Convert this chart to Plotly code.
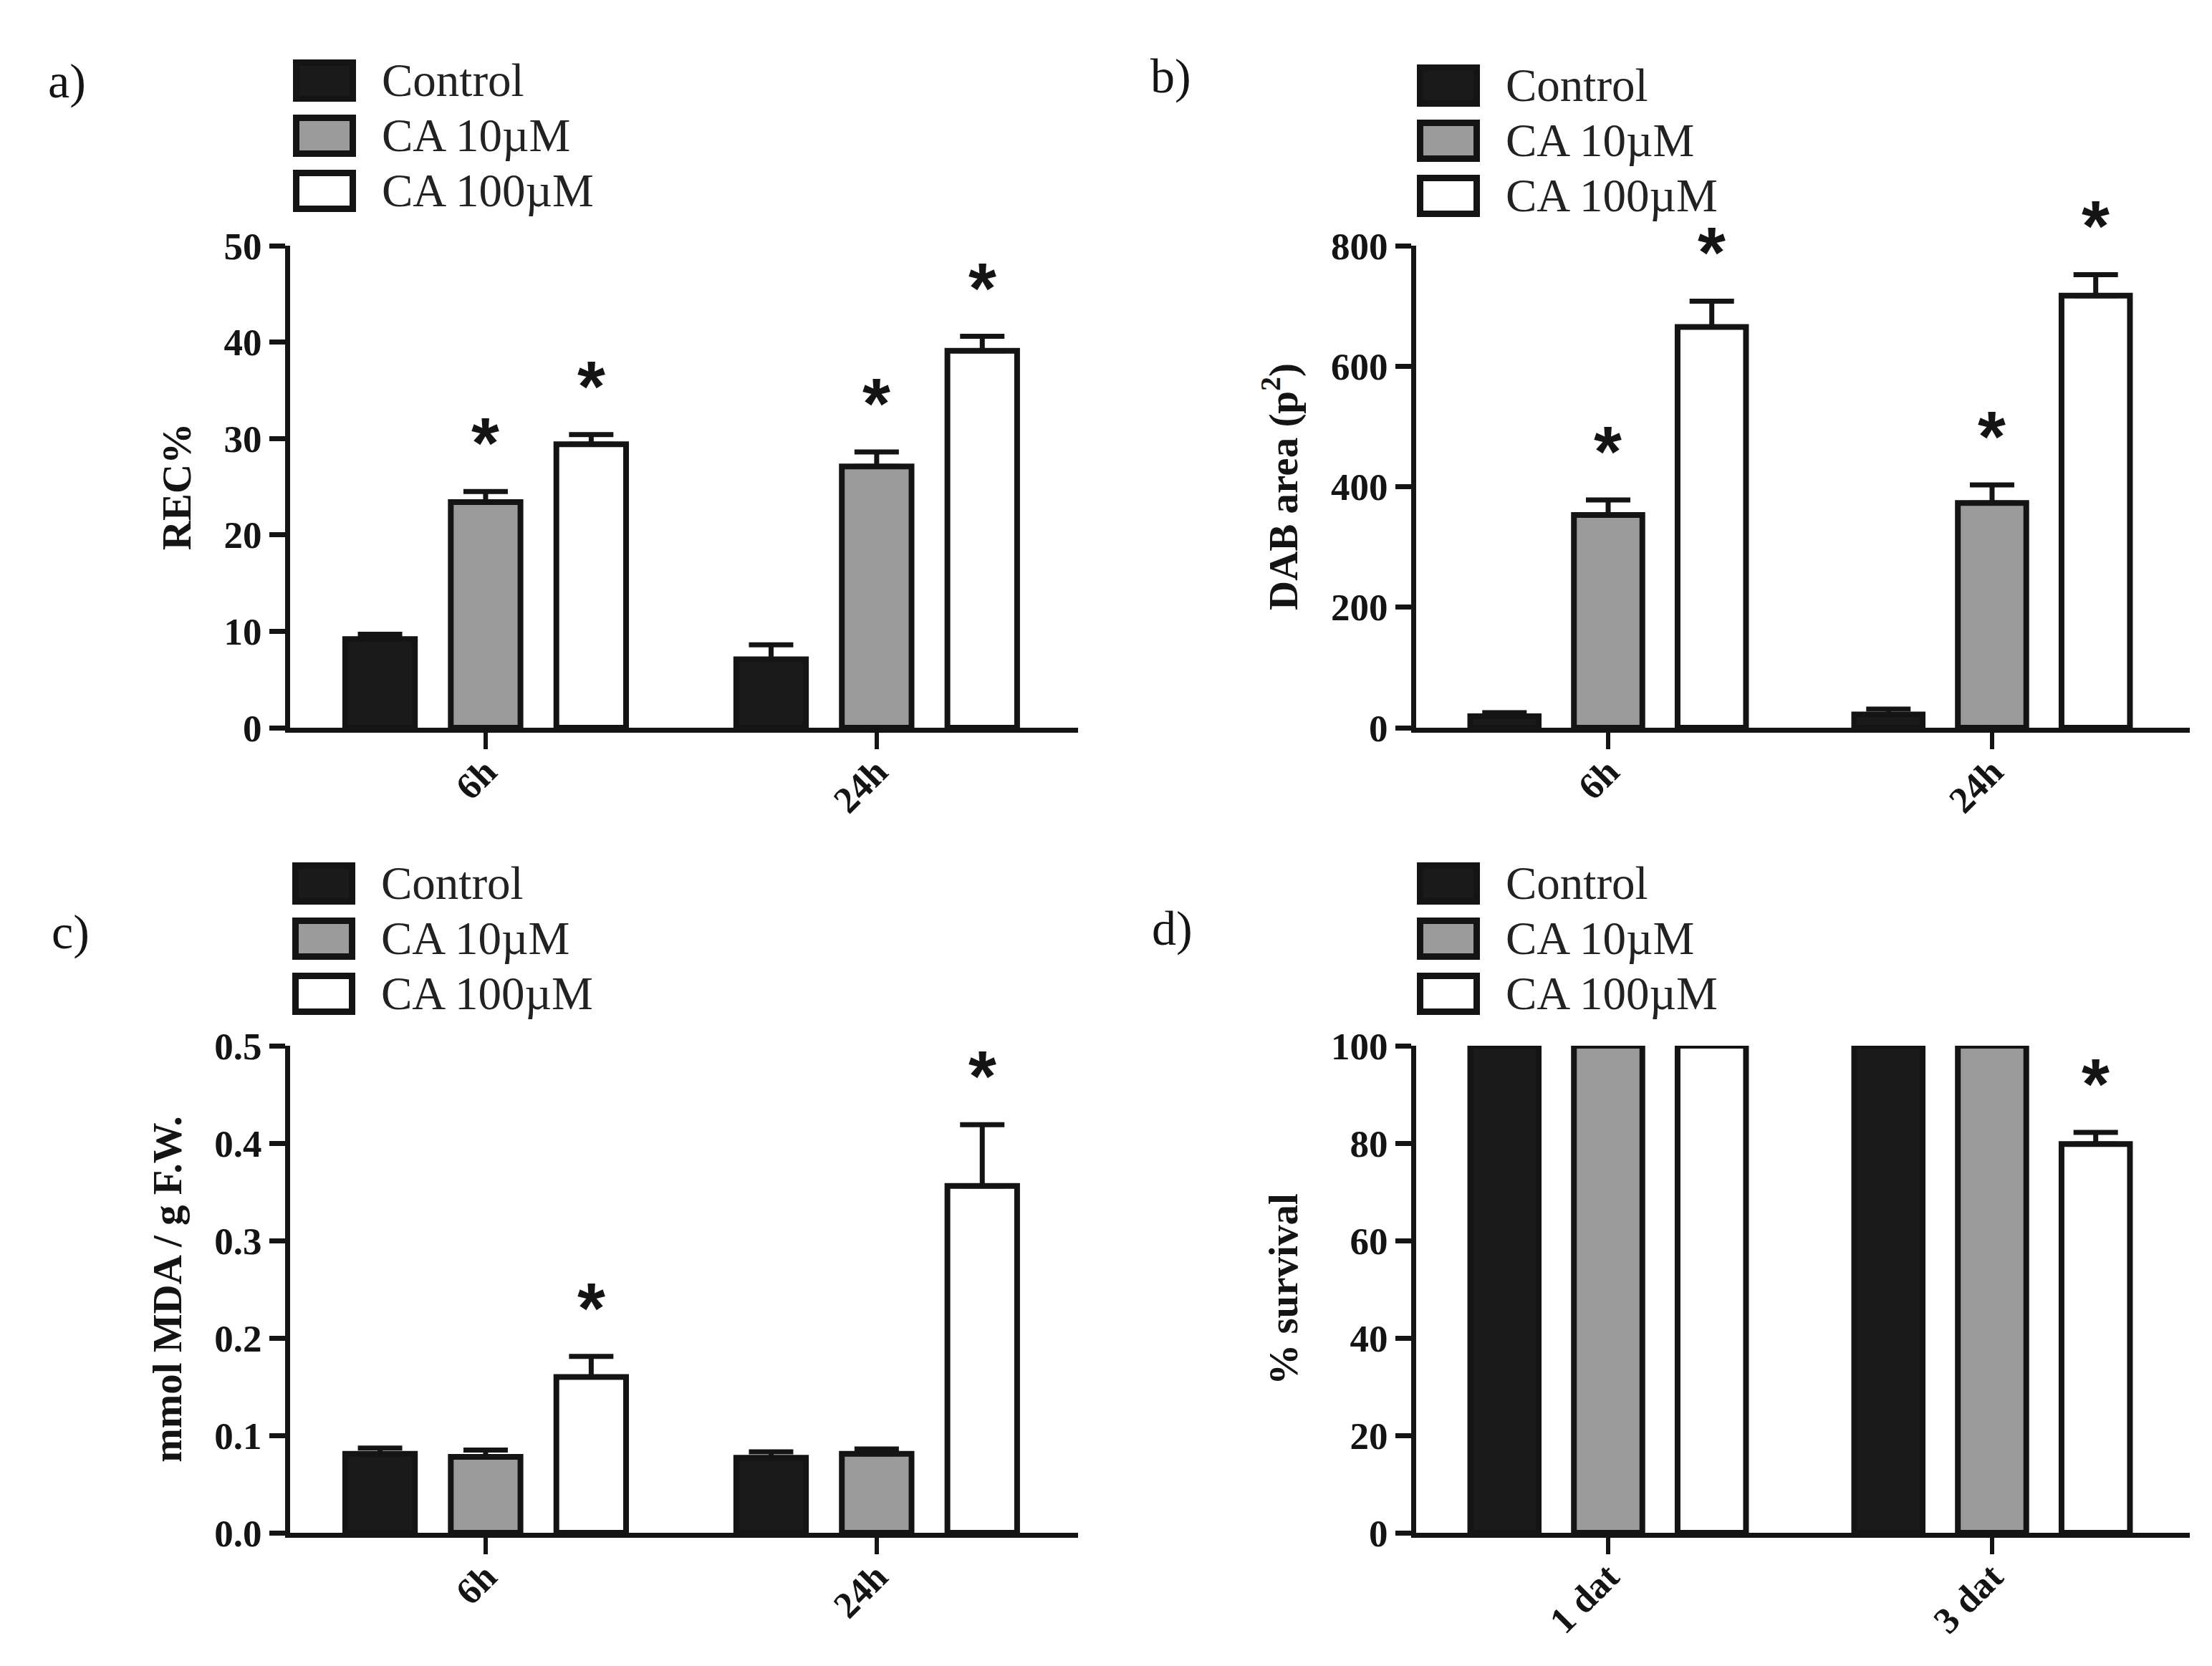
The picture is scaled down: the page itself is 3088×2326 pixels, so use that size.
import plotly.graph_objects as go

# category labels
hours = ["6h", "24h"]
days = ["1 dat", "3 dat"]
groups = ["Control", "CA 10µM", "CA 100µM"]

# a) relative electrolyte conductivity, one row per group
rec_means = [[9.2, 7.1], [23.4, 27.1], [29.4, 39.1]]
rec_errs = [[0.5, 1.5], [1.1, 1.5], [1.0, 1.5]]
rec_sig = [[False, False], [True, True], [True, True]]

# b) DAB staining area
dab_means = [[19, 22], [353, 373], [665, 717]]
dab_errs = [[6, 9], [25, 30], [43, 35]]
dab_sig = [[False, False], [True, True], [True, True]]

# c) malondialdehyde content
mda_means = [[0.081, 0.077], [0.078, 0.081], [0.160, 0.356]]
mda_errs = [[0.006, 0.006], [0.007, 0.005], [0.021, 0.063]]
mda_sig = [[False, False], [False, False], [True, True]]

# d) survival
surv_means = [[100, 100], [100, 100], [100, 79.8]]
surv_errs = [[0, 0], [0, 0], [0, 2.4]]
surv_sig = [[False, False], [False, False], [False, True]]

W, H = 3088, 2326
SERIF = "Liberation Serif, Times New Roman, serif"
STAR_FONT = "Liberation Sans, Arial, sans-serif"
INK = "#141414"
FILLS = ["#1a1a1a", "#9b9b9b", "#ffffff"]
BARGAP = 0.19


def px(x):
    return x / W


def py(y):
    return 1 - y / H


panels = [
    dict(letter="a)", cats=hours, means=rec_means, errs=rec_errs, sig=rec_sig,
         ymax=50, dtick=10, fmt="d", title="REC%",
         xdom=(397, 1497), ydom=(1008, 335), legend=(401, 75), label=(57, 105)),
    dict(letter="b)", cats=hours, means=dab_means, errs=dab_errs, sig=dab_sig,
         ymax=800, dtick=200, fmt="d", title="DAB area (p<sup>2</sup>)",
         xdom=(1969, 3049), ydom=(1008, 335), legend=(1970, 82), label=(1596, 98)),
    dict(letter="c)", cats=hours, means=mda_means, errs=mda_errs, sig=mda_sig,
         ymax=0.5, dtick=0.1, fmt=".1f", title="mmol MDA / g F.W.",
         xdom=(397, 1497), ydom=(2132, 1452), legend=(400, 1196), label=(62, 1293)),
    dict(letter="d)", cats=days, means=surv_means, errs=surv_errs, sig=surv_sig,
         ymax=100, dtick=20, fmt="d", title="% survival",
         xdom=(1969, 3049), ydom=(2132, 1452), legend=(1970, 1196), label=(1598, 1288)),
]

fig = go.Figure()
annotations = []
shapes = []
layout_axes = {}
slot = (1 - BARGAP) / len(groups)

for i, p in enumerate(panels):
    sfx = "" if i == 0 else str(i + 1)
    for k, name in enumerate(groups):
        fig.add_trace(go.Bar(
            x=p["cats"], y=p["means"][k], name=name,
            marker=dict(color=FILLS[k], line=dict(color=INK, width=8)),
            error_y=dict(type="data", symmetric=False, array=p["errs"][k],
                         arrayminus=[0] * len(p["cats"]), color=INK,
                         thickness=7, width=31),
            xaxis="x" + sfx, yaxis="y" + sfx, offsetgroup=str(k),
            cliponaxis=False, showlegend=False,
        ))
        # significance stars above error bars
        for j, flag in enumerate(p["sig"][k]):
            if flag:
                annotations.append(dict(
                    x=j + (k - 1) * slot, y=p["means"][k][j] + p["errs"][k][j],
                    xref="x" + sfx, yref="y" + sfx, text="*", showarrow=False,
                    yanchor="middle", yshift=68,
                    font=dict(family=STAR_FONT, size=100, color=INK, weight="bold")))

    layout_axes["xaxis" + sfx] = dict(
        domain=[px(p["xdom"][0]), px(p["xdom"][1])], anchor="y" + sfx,
        type="category", range=[-0.5, 1.515], showline=True, linecolor=INK,
        linewidth=7, ticks="outside", ticklen=23, tickwidth=6, tickcolor=INK,
        tickangle=-45, ticklabelstandoff=-20, layer="above traces",
        showgrid=False, zeroline=False, automargin=False,
        tickfont=dict(family=SERIF, size=52, color=INK, weight="bold"))
    layout_axes["yaxis" + sfx] = dict(
        domain=[py(p["ydom"][0]), py(p["ydom"][1])], anchor="x" + sfx,
        range=[0, p["ymax"]], tick0=0, dtick=p["dtick"], tickformat=p["fmt"],
        showline=True, linecolor=INK, linewidth=7, ticks="outside", ticklen=22,
        tickwidth=7, tickcolor=INK, showgrid=False, zeroline=False,
        automargin=False, layer="above traces",
        tickfont=dict(family=SERIF, size=53, color=INK, weight="bold"),
        title=dict(text=p["title"], standoff=30,
                   font=dict(family=SERIF, size=57, color=INK, weight="bold")))

    # panel letter
    annotations.append(dict(
        x=px(p["label"][0]), y=py(p["label"][1]), xref="paper", yref="paper",
        text=p["letter"], showarrow=False, xanchor="left", yanchor="middle",
        font=dict(family=SERIF, size=68, color=INK)))

    # legend drawn as boxes + labels
    lx, ly = p["legend"]
    for k, name in enumerate(groups):
        top = ly + k * 77
        shapes.append(dict(
            type="rect", xref="paper", yref="paper",
            x0=px(lx + 4.5), x1=px(lx + 83.5), y0=py(top + 54.5), y1=py(top + 4.5),
            fillcolor=FILLS[k], line=dict(color=INK, width=9)))
        annotations.append(dict(
            x=px(lx + 122), y=py(top + 29), xref="paper", yref="paper",
            text=name, showarrow=False, xanchor="left", yanchor="middle",
            font=dict(family=SERIF, size=65, color="#222222")))

fig.update_layout(
    width=W, height=H, margin=dict(l=0, r=0, t=0, b=0),
    paper_bgcolor="white", plot_bgcolor="white",
    barmode="group", bargap=BARGAP, bargroupgap=0.34,
    showlegend=False, annotations=annotations, shapes=shapes,
    **layout_axes,
)

fig.write_html("out.html")
